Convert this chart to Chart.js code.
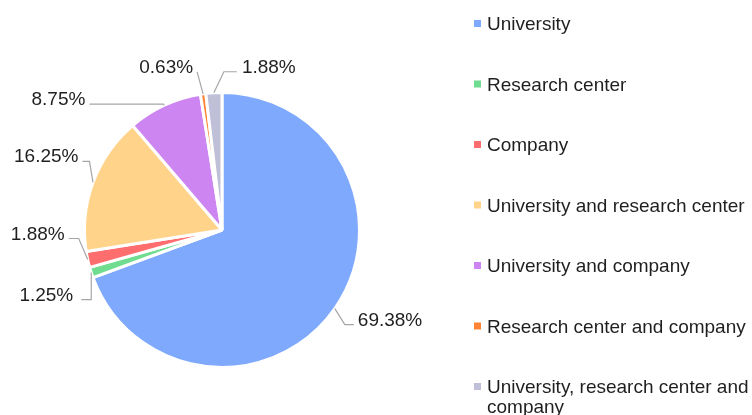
<!DOCTYPE html>
<html><head><meta charset="utf-8">
<script src="https://cdn.jsdelivr.net/npm/chart.js@4/dist/chart.umd.min.js"></script>
<style>html,body{margin:0;padding:0;background:#fff;overflow:hidden}#wrap{width:752px;height:415px;position:relative}</style>
</head><body><div id="wrap"><canvas id="c" width="752" height="415"></canvas></div>
<script>
const categories = [
  'University',
  'Research center',
  'Company',
  'University and research center',
  'University and company',
  'Research center and company',
  'University, research center and company'
];
const shares = [69.38, 1.25, 1.88, 16.25, 8.75, 0.63, 1.88];
const valueLabels = ['69.38%', '1.25%', '1.88%', '16.25%', '8.75%', '0.63%', '1.88%'];
const colors = ['#7EA9FD', '#6FDC90', '#FF6E6E', '#FFD48A', '#CD86F1', '#FF8433', '#BFC0D8'];

// leader line layout: elbow offset from the slice edge point, horizontal run, text side, gap
const labelLayout = [
  {elbow: [10, 16], run: 9, side: 'R', gap: 4},
  {elbow: [0, 27], run: -10, side: 'L', gap: 8},
  {elbow: [-9, -21], run: -10, side: 'L', gap: 4},
  {elbow: [-3.5, -21], run: -7, side: 'L', gap: 4},
  {elbow: [-1, -1], run: -74, side: 'L', gap: 4},
  {elbow: [-6, -22], run: 0, side: 'L', gap: 4},
  {elbow: [10, -21], run: 13, side: 'R', gap: 5}
];

const FONT = '19px "Liberation Sans", Arial, sans-serif';
const TEXT_COLOR = '#1f1f1f';
const BORDER = 3;

const leaderPlugin = {
  id: 'leaders',
  afterDatasetsDraw(chart) {
    const ctx = chart.ctx;
    const arcs = chart.getDatasetMeta(0).data;
    ctx.save();
    ctx.font = FONT;
    arcs.forEach((arc, i) => {
      const L = labelLayout[i];
      const mid = (arc.startAngle + arc.endAngle) / 2;
      const r = arc.outerRadius - BORDER / 2 + 1.5;
      const sx = arc.x + Math.cos(mid) * r;
      const sy = arc.y + Math.sin(mid) * r;
      const ex = sx + L.elbow[0], ey = sy + L.elbow[1];
      const hx = ex + L.run;
      ctx.strokeStyle = '#A6A6A6';
      ctx.lineWidth = 1.2;
      ctx.beginPath();
      ctx.moveTo(sx, sy);
      ctx.lineTo(ex, ey);
      ctx.lineTo(hx, ey);
      ctx.stroke();
      ctx.fillStyle = TEXT_COLOR;
      ctx.textBaseline = 'alphabetic';
      if (L.side === 'R') {
        ctx.textAlign = 'left';
        ctx.fillText(valueLabels[i], hx + L.gap, ey + 1);
      } else {
        ctx.textAlign = 'right';
        ctx.fillText(valueLabels[i], hx - L.gap, ey + 1);
      }
    });
    ctx.restore();
  }
};

const legendPlugin = {
  id: 'sideLegend',
  afterDraw(chart) {
    const ctx = chart.ctx;
    const textX = 487, boxX = 474, box = 7;
    const firstBase = 30, step = 60.5, lineH = 20;
    const maxW = chart.width - textX - 2;
    ctx.save();
    ctx.font = FONT;
    ctx.textAlign = 'left';
    ctx.textBaseline = 'alphabetic';
    categories.forEach((name, i) => {
      const base = firstBase + step * i;
      ctx.fillStyle = colors[i];
      ctx.fillRect(boxX, base - 10, box, box);
      // word wrap
      const words = name.split(' ');
      const lines = [];
      let cur = '';
      words.forEach(w => {
        const test = cur ? cur + ' ' + w : w;
        if (ctx.measureText(test).width > maxW && cur) { lines.push(cur); cur = w; }
        else cur = test;
      });
      if (cur) lines.push(cur);
      ctx.fillStyle = TEXT_COLOR;
      lines.forEach((ln, k) => ctx.fillText(ln, textX, base + k * lineH));
    });
    ctx.restore();
  }
};

new Chart(document.getElementById('c'), {
  type: 'pie',
  data: {
    labels: categories,
    datasets: [{
      data: shares,
      backgroundColor: colors,
      borderColor: '#ffffff',
      borderWidth: BORDER
    }]
  },
  options: {
    responsive: false,
    animation: false,
    devicePixelRatio: 1,
    layout: {padding: {left: 83, right: 391, top: 91, bottom: 46}},
    plugins: {
      legend: {display: false},
      tooltip: {enabled: false}
    }
  },
  plugins: [leaderPlugin, legendPlugin]
});
</script>
</body></html>
